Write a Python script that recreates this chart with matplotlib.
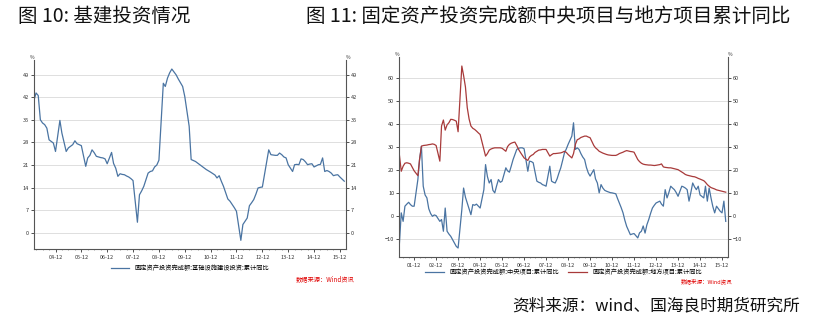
import matplotlib
matplotlib.use("Agg")
import matplotlib.pyplot as plt
import matplotlib.dates as mdates
import pandas as pd

plt.rcParams['font.family'] = ['Noto Sans CJK SC', 'DejaVu Sans']

# 图10：基建投资累计同比 (%)
infra_dates = [
    "2004-02", "2004-03", "2004-04", "2004-05", "2004-06", "2004-07", "2004-08", "2004-09", "2004-10", "2004-11", "2004-12",
    "2005-02", "2005-03", "2005-04", "2005-05", "2005-06", "2005-07", "2005-08", "2005-09", "2005-10", "2005-11", "2005-12",
    "2006-02", "2006-03", "2006-04", "2006-05", "2006-06", "2006-07", "2006-08", "2006-09", "2006-10", "2006-11", "2006-12",
    "2007-02", "2007-03", "2007-04", "2007-05", "2007-06", "2007-07", "2007-08", "2007-09", "2007-10", "2007-11", "2007-12",
    "2008-02", "2008-03", "2008-04", "2008-05", "2008-06", "2008-07", "2008-08", "2008-09", "2008-10", "2008-11", "2008-12",
    "2009-02", "2009-03", "2009-04", "2009-05", "2009-06", "2009-07", "2009-08", "2009-09", "2009-10", "2009-11", "2009-12",
    "2010-02", "2010-03", "2010-04", "2010-05", "2010-06", "2010-07", "2010-08", "2010-09", "2010-10", "2010-11", "2010-12",
    "2011-02", "2011-03", "2011-04", "2011-05", "2011-06", "2011-07", "2011-08", "2011-09", "2011-10", "2011-11", "2011-12",
    "2012-02", "2012-03", "2012-04", "2012-05", "2012-06", "2012-07", "2012-08", "2012-09", "2012-10", "2012-11", "2012-12",
    "2013-02", "2013-03", "2013-04", "2013-05", "2013-06", "2013-07", "2013-08", "2013-09", "2013-10", "2013-11", "2013-12",
    "2014-02", "2014-03", "2014-04", "2014-05", "2014-06", "2014-07", "2014-08", "2014-09", "2014-10", "2014-11", "2014-12",
    "2015-02", "2015-03", "2015-04", "2015-05", "2015-06", "2015-07", "2015-08", "2015-09", "2015-10", "2015-11", "2015-12",
    "2016-02",
]
infra_vals = [
    41.0, 43.3, 42.5, 35.0, 34.0, 33.5, 32.4, 28.8, 28.3, 27.8, 25.2,
    34.8, 30.9, 28.0, 25.2, 26.3, 26.8, 27.3, 28.5, 27.6, 27.3, 27.0,
    20.6, 23.2, 24.0, 25.7, 24.8, 23.7, 23.5, 23.3, 23.2, 22.9, 21.4,
    24.9, 21.5, 20.0, 17.5, 18.3, 18.1, 18.0, 17.6, 17.3, 16.8, 16.2,
    3.3, 11.8, 13.0, 14.4, 16.5, 18.5, 19.0, 19.2, 20.4, 21.0, 22.5,
    46.3, 45.3, 47.9, 49.5, 50.7, 49.8, 48.9, 47.6, 46.5, 45.3, 42.2,
    33.0, 22.7, 22.4, 22.1, 21.6, 21.1, 20.6, 20.1, 19.6, 19.2, 18.8,
    17.9, 17.0, 17.7, 16.0, 14.4, 12.5, 10.5, 9.8, 8.8, 7.8, 6.7,
    -2.3, 2.6, 3.6, 4.6, 8.4, 9.3, 10.3, 12.0, 13.9, 14.1, 14.2,
    22.0, 25.7, 24.2, 24.1, 24.0, 24.0, 24.7, 24.2, 23.5, 23.2, 21.1,
    19.0, 21.1, 21.2, 21.1, 22.9, 22.7, 22.0, 21.1, 21.3, 21.4, 20.4,
    21.1, 21.2, 23.2, 19.0, 19.3, 19.0, 18.5, 17.7, 17.9, 18.0, 17.3,
    16.0,
]

# 图11：中央项目 / 地方项目 累计同比 (%)
proj_dates = [
    "2001-04", "2001-05", "2001-06", "2001-07", "2001-08", "2001-09", "2001-10", "2001-11", "2001-12",
    "2002-02", "2002-03", "2002-04", "2002-05", "2002-06", "2002-07", "2002-08", "2002-09", "2002-10", "2002-11", "2002-12",
    "2003-02", "2003-03", "2003-04", "2003-05", "2003-06", "2003-07", "2003-08", "2003-09", "2003-10", "2003-11", "2003-12",
    "2004-02", "2004-03", "2004-04", "2004-05", "2004-06", "2004-07", "2004-08", "2004-09", "2004-10", "2004-11", "2004-12",
    "2005-02", "2005-03", "2005-04", "2005-05", "2005-06", "2005-07", "2005-08", "2005-09", "2005-10", "2005-11", "2005-12",
    "2006-02", "2006-03", "2006-04", "2006-05", "2006-06", "2006-07", "2006-08", "2006-09", "2006-10", "2006-11", "2006-12",
    "2007-02", "2007-03", "2007-04", "2007-05", "2007-06", "2007-07", "2007-08", "2007-09", "2007-10", "2007-11", "2007-12",
    "2008-02", "2008-03", "2008-04", "2008-05", "2008-06", "2008-07", "2008-08", "2008-09", "2008-10", "2008-11", "2008-12",
    "2009-02", "2009-03", "2009-04", "2009-05", "2009-06", "2009-07", "2009-08", "2009-09", "2009-10", "2009-11", "2009-12",
    "2010-02", "2010-03", "2010-04", "2010-05", "2010-06", "2010-07", "2010-08", "2010-09", "2010-10", "2010-11", "2010-12",
    "2011-02", "2011-03", "2011-04", "2011-05", "2011-06", "2011-07", "2011-08", "2011-09", "2011-10", "2011-11", "2011-12",
    "2012-02", "2012-03", "2012-04", "2012-05", "2012-06", "2012-07", "2012-08", "2012-09", "2012-10", "2012-11", "2012-12",
    "2013-02", "2013-03", "2013-04", "2013-05", "2013-06", "2013-07", "2013-08", "2013-09", "2013-10", "2013-11", "2013-12",
    "2014-02", "2014-03", "2014-04", "2014-05", "2014-06", "2014-07", "2014-08", "2014-09", "2014-10", "2014-11", "2014-12",
    "2015-02", "2015-03", "2015-04", "2015-05", "2015-06", "2015-07", "2015-08", "2015-09", "2015-10", "2015-11", "2015-12",
    "2016-01", "2016-02",
]
central_vals = [
    -11.9, 1.2, -2.5, 4.1, 5.0, 5.8, 4.8, 4.1, 4.1,
    15.7, 24.4, 30.2, 12.8, 9.0, 7.7, 3.0, 0.9, -0.3, 0.3, 0.0,
    -2.5, -1.7, -6.8, 3.3, -6.8, -8.0, -9.0, -10.5, -12.0, -13.4, -14.1,
    2.6, 12.0, 8.0, 5.5, 3.0, 0.4, 4.8, 4.5, 5.0, 4.1, 3.3,
    11.3, 22.2, 17.0, 14.2, 15.7, 11.0, 9.9, 13.0, 15.7, 14.5, 15.0,
    20.8, 19.5, 18.9, 21.5, 24.4, 26.5, 28.8, 29.3, 29.5, 29.5, 29.1,
    19.3, 23.7, 23.5, 23.0, 19.0, 15.0, 14.5, 14.2, 13.5, 13.2, 12.8,
    21.5, 15.0, 14.5, 14.2, 16.0, 18.5, 20.8, 24.0, 27.3, 29.0, 31.0,
    34.6, 40.4, 28.8, 29.5, 28.8, 27.0, 25.5, 24.4, 21.0, 18.6, 17.2,
    20.0, 16.0, 14.2, 9.9, 13.5, 12.0, 11.0, 10.6, 10.3, 10.0, 9.9,
    9.5, 7.5, 5.5, 3.5, 1.2, -2.0, -4.7, -6.5, -8.3, -8.0, -7.8,
    -9.7, -7.5, -6.8, -4.5, -7.6, -4.0, -1.7, 1.0, 3.3, 4.5, 5.5,
    6.3, 5.0, 4.1, 11.3, 7.7, 10.0, 12.8, 12.0, 11.3, 10.0, 8.4,
    12.8, 12.5, 12.0, 11.3, 6.3, 10.0, 14.2, 12.5, 11.3, 12.8, 9.0,
    7.7, 12.8, 6.3, 12.0, 7.7, 4.0, 1.2, 4.1, 3.0, 1.9, 1.2,
    6.3, -2.5,
]
local_vals = [
    26.2, 19.3, 21.5, 22.8, 23.0, 22.8, 22.5, 21.0, 19.5,
    17.4, 24.4, 30.2, 30.5, 30.6, 30.7, 30.9, 31.0, 31.2, 31.0, 30.5,
    23.7, 39.0, 41.6, 37.2, 39.5, 40.4, 41.9, 41.8, 41.5, 41.1, 36.5,
    65.1, 61.0, 56.0, 47.0, 42.0, 39.0, 38.0, 37.5, 36.8, 36.0, 35.3,
    28.8, 25.9, 27.0, 28.5, 29.0, 29.3, 29.5, 29.5, 29.5, 29.5, 29.3,
    28.0, 30.0, 31.0, 31.5, 31.8, 32.0, 30.5, 28.8, 27.5, 26.3, 25.1,
    24.0, 25.5, 26.2, 26.6, 27.5, 28.0, 28.5, 28.6, 28.8, 28.8, 28.8,
    25.9, 26.5, 27.0, 27.0, 27.1, 27.2, 27.3, 27.6, 28.0, 27.5, 26.6,
    25.1, 27.0, 31.0, 33.0, 33.4, 34.0, 34.3, 34.6, 34.6, 34.2, 33.9,
    30.5, 29.5, 28.8, 28.0, 27.6, 27.2, 26.9, 26.6, 26.4, 26.3, 26.2,
    26.2, 26.5, 27.0, 27.3, 27.6, 28.0, 28.3, 28.1, 27.9, 27.8, 27.6,
    24.4, 23.5, 22.8, 22.4, 22.2, 22.1, 22.0, 22.0, 21.9, 21.8, 21.9,
    22.2, 22.5, 21.2, 21.0, 20.9, 20.8, 20.8, 20.6, 20.4, 20.2, 20.0,
    19.0, 18.5, 17.9, 17.6, 17.4, 17.2, 17.0, 16.9, 16.6, 16.2, 15.9,
    15.2, 14.5, 13.5, 12.8, 12.2, 11.9, 11.6, 11.2, 11.0, 10.8, 10.6,
    10.4, 10.2,
]

infra_ticks = [49, 42, 35, 28, 21, 14, 7, 0]
proj_ticks = [60, 50, 40, 30, 20, 10, 0, -10]

infra_name = "固定资产投资完成额:基础设施建设投资:累计同比"
central_name = "固定资产投资完成额:中央项目:累计同比"
local_name = "固定资产投资完成额:地方项目:累计同比"

blue = "#4a74a2"
red = "#a83a3a"
tick_fs = 4

fig = plt.figure(figsize=(8.15, 3.26), dpi=100)
fig.patch.set_facecolor("white")


def style_axes(ax, ticks):
    ax.set_yticks(ticks)
    ax.yaxis.set_ticks_position('both')
    ax.tick_params(axis='y', labelleft=True, labelright=True, labelsize=tick_fs,
                   length=2, width=0.6, colors="#333333", pad=1.5)
    ax.tick_params(axis='x', labelsize=tick_fs, length=2, width=0.6,
                   colors="#333333", pad=2)
    ax.xaxis.set_major_locator(mdates.YearLocator(base=1, month=12, day=1))
    ax.xaxis.set_major_formatter(mdates.DateFormatter("%y-%m"))
    ax.xaxis.set_minor_locator(mdates.MonthLocator(bymonth=[3, 6, 9]))
    ax.tick_params(axis='x', which='minor', length=1, width=0.4, colors="#555555")
    ax.grid(axis='y', color="#d9d9d9", linewidth=0.6)
    ax.set_axisbelow(True)
    for s in ["left", "right", "bottom"]:
        ax.spines[s].set_color("#555555")
        ax.spines[s].set_linewidth(0.8)
    ax.spines["top"].set_visible(False)
    ax.text(0, 1.0, "%", transform=ax.transAxes, fontsize=3.5, ha="right", va="bottom", color="#333333")
    ax.text(1, 1.0, "%", transform=ax.transAxes, fontsize=3.5, ha="left", va="bottom", color="#333333")


# 左图
ax1 = fig.add_axes([0.0417, 0.236, 0.3828, 0.58])
ax1.plot(pd.to_datetime(infra_dates), infra_vals, color=blue, linewidth=0.9, label=infra_name)
ax1.set_xlim(pd.Timestamp("2004-02-01"), pd.Timestamp("2016-02-25"))
ax1.set_ylim(-5, 53.5)
style_axes(ax1, infra_ticks)
ax1.legend(loc="center", bbox_to_anchor=(0.5, -0.10), frameon=False,
           fontsize=4.5, handlelength=3, borderaxespad=0, borderpad=0)

# 右图
ax2 = fig.add_axes([0.4896, 0.2117, 0.4037, 0.6133])
pdates = pd.to_datetime(proj_dates)
ax2.plot(pdates, central_vals, color=blue, linewidth=0.9, label=central_name)
ax2.plot(pdates, local_vals, color=red, linewidth=0.9, label=local_name)
ax2.set_xlim(pd.Timestamp("2001-03-25"), pd.Timestamp("2016-03-10"))
ax2.set_ylim(-18, 69)
style_axes(ax2, proj_ticks)
ax2.legend(loc="center", bbox_to_anchor=(0.5, -0.078), frameon=False, ncol=2,
           fontsize=4.5, handlelength=3, columnspacing=1.5, borderaxespad=0, borderpad=0)

# 数据来源（红色小字）
fig.text(0.435, 0.144, "数据来源：Wind资讯", color="#e00000", fontsize=4.5, ha="right", va="center", style="italic")
fig.text(0.899, 0.139, "数据来源：Wind资讯", color="#e00000", fontsize=4, ha="right", va="center", style="italic")

# 标题
fig.text(0.022, 0.948, "图 10: 基建投资情况", fontsize=14, ha="left", va="center", color="#111111")
fig.text(0.376, 0.948, "图 11: 固定资产投资完成额中央项目与地方项目累计同比", fontsize=14,
         ha="left", va="center", color="#111111")

fig.text(0.982, 0.062, "资料来源：wind、国海良时期货研究所", fontsize=12, ha="right", va="center", color="#111111")

plt.savefig("out.png", dpi=100, facecolor="white")
